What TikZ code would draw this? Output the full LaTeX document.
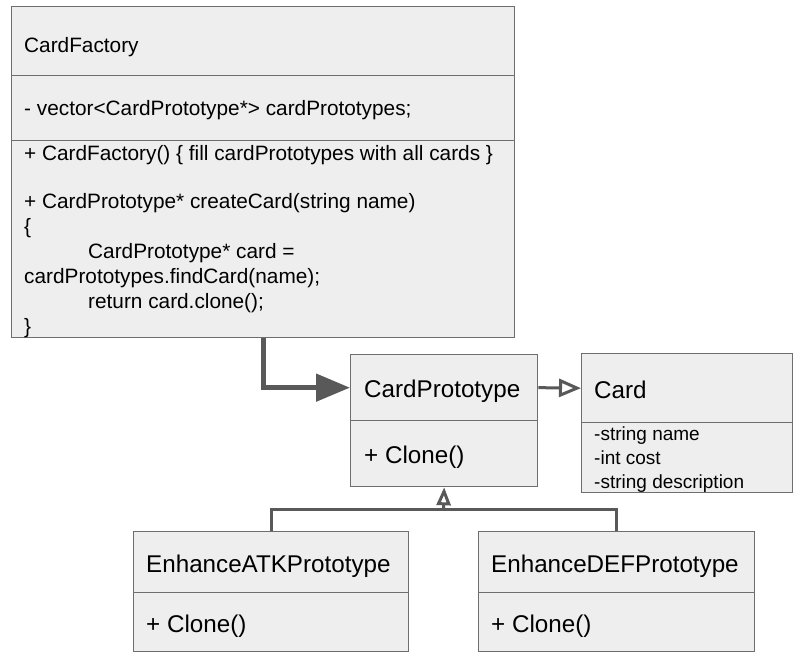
\documentclass[tikz,border=0pt]{standalone}
\usepackage{fontspec}
\setmainfont{Liberation Sans}
\usetikzlibrary{arrows.meta}
\definecolor{boxfill}{HTML}{EEEEEE}
\definecolor{boxline}{HTML}{6E6E6E}
\definecolor{conncol}{HTML}{595959}
\tikzset{
  compart/.style={draw=boxline, fill=boxfill, line width=1.3pt, anchor=north west, inner sep=0pt, rectangle},
  big/.style={anchor=base west, inner sep=0pt, font=\fontsize{20.8pt}{24.6pt}\selectfont},
  huge/.style={anchor=base west, inner sep=0pt, font=\fontsize{24.2pt}{28pt}\selectfont},
  small/.style={anchor=base west, inner sep=0pt, font=\fontsize{19pt}{23pt}\selectfont},
  conn/.style={draw=conncol, line width=3pt},
  thickconn/.style={draw=conncol, line width=5pt, -{Triangle[length=34pt,width=27pt]}},
  openhead/.style={-{Triangle[open,length=22pt,width=18pt]}},
  inhhead/.style={-{Triangle[open,length=18pt,width=14pt]}},
}
\begin{document}
\begin{tikzpicture}[x=1pt,y=-1pt]
\useasboundingbox (0,0) rectangle (799,662);
% CardFactory
\node[compart, minimum width=503pt, minimum height=69pt] (cfT) at (11,6) {};
\node[compart, minimum width=503pt, minimum height=65pt] (cfA) at (11,75) {};
\node[compart, minimum width=503pt, minimum height=197pt] (cfM) at (11,140) {};
\node[big] (cf1) at (24,52) {CardFactory};
\node[big] (cf2) at (24,115) {- vector<CardPrototype*> cardPrototypes;};
\node[big] (cf3) at (24,160) {+ CardFactory() \{ fill cardPrototypes with all cards \}};
\node[big] (cf4) at (24,208) {+ CardPrototype* createCard(string name)};
\node[big] (cf5) at (24,233) {\{};
\node[big] (cf6) at (88,258) {CardPrototype* card =};
\node[big] (cf7) at (24,283) {cardPrototypes.findCard(name);};
\node[big] (cf8) at (88,308) {return card.clone();};
\node[big] (cf9) at (24,333) {\}};
% CardPrototype
\node[compart, minimum width=187pt, minimum height=66pt] (cpT) at (350,354) {};
\node[compart, minimum width=187pt, minimum height=66pt] (cpB) at (350,420) {};
\node[huge] (cp1) at (364,397) {CardPrototype};
\node[huge] (cp2) at (364,463) {+ Clone()};
% Card
\node[compart, minimum width=211pt, minimum height=69pt] (cdT) at (581,353) {};
\node[compart, minimum width=211pt, minimum height=70pt] (cdB) at (581,422) {};
\node[huge] (cd1) at (594,398) {Card};
\node[small] (cd2) at (594,440) {-string name};
\node[small] (cd3) at (594,464) {-int cost};
\node[small] (cd4) at (594,488) {-string description};
% EnhanceATKPrototype
\node[compart, minimum width=275pt, minimum height=61pt] (eaT) at (133,531) {};
\node[compart, minimum width=275pt, minimum height=59pt] (eaB) at (133,592) {};
\node[huge] (ea1) at (146,572) {EnhanceATKPrototype};
\node[huge] (ea2) at (146,632) {+ Clone()};
% EnhanceDEFPrototype
\node[compart, minimum width=276pt, minimum height=61pt] (edT) at (478,531) {};
\node[compart, minimum width=276pt, minimum height=59pt] (edB) at (478,592) {};
\node[huge] (ed1) at (491,572) {EnhanceDEFPrototype};
\node[huge] (ed2) at (491,632) {+ Clone()};
% connectors
\coordinate (fstart) at (263,337);
\draw[thickconn] (cfM.south -| fstart) |- (cpT.west);
\draw[conn, openhead] (cpT.east) -- (cdT.west);
\coordinate (junc) at (443.5,509);
\draw[conn] (eaT.north) |- (junc) -| (edT.north);
\draw[conn, inhhead] (junc) -- (cpB.south);
\end{tikzpicture}
\end{document}
